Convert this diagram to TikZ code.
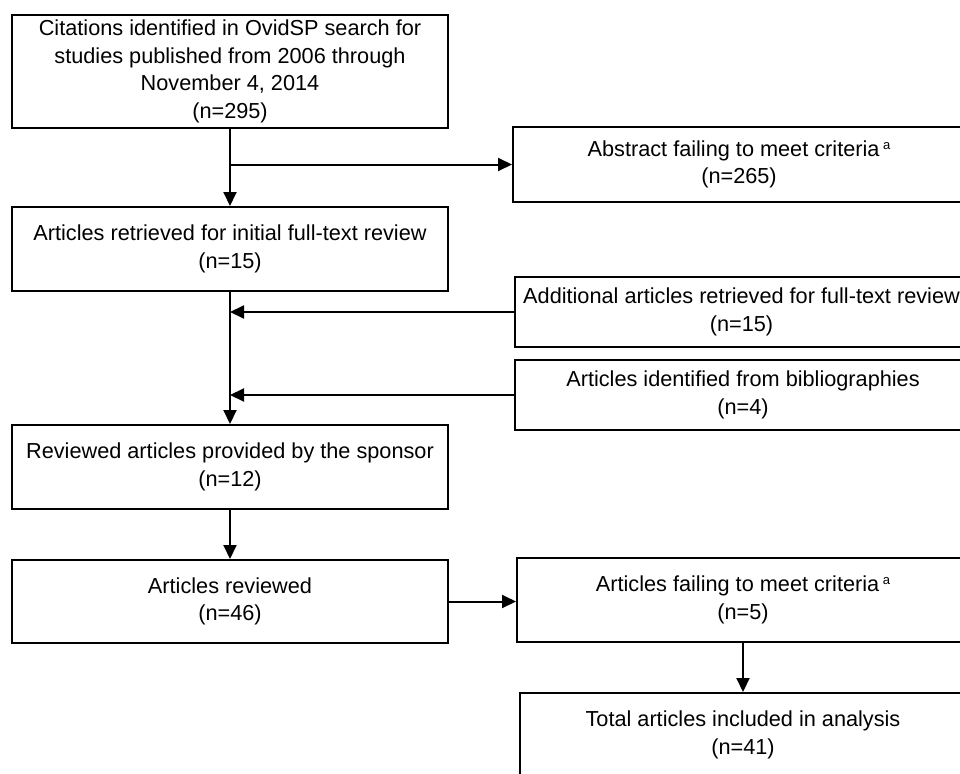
\documentclass[tikz,border=0pt]{standalone}
\usepackage{fontspec}
\setmainfont{Liberation Sans}
\usetikzlibrary{arrows.meta}

\tikzset{
    box/.style={draw, line width=2pt, inner sep=0pt, align=center,
        font=\fontsize{21.7}{27.5}\selectfont},
    leftbox/.style={box, minimum width=436, minimum height=84},
    arr/.style={line width=2pt, -{Triangle[length=14pt, width=13pt]}},
}
\newcommand{\supa}{\,\raisebox{7pt}{\fontsize{13}{13}\selectfont a}}

\begin{document}
\begin{tikzpicture}[x=1pt, y=-1pt]
    \useasboundingbox (0,0) rectangle (960,773);
    \clip (0,0) rectangle (960,773);

    % main column
    \node[leftbox, minimum height=113] (cit) at (230, 71.5)
        {Citations identified in OvidSP search for\\studies published from 2006 through\\November 4, 2014\\(n=295)};
    \node[leftbox] (art) at (230, 249) {Articles retrieved for initial full-text review\\(n=15)};
    \node[leftbox] (spo) at (230, 467) {Reviewed articles provided by the sponsor\\(n=12)};
    \node[leftbox, minimum height=83] (rev) at (230, 601.5) {Articles reviewed\\(n=46)};

    % side boxes
    \node[box, minimum width=452, minimum height=75] (abs) at (739, 164.5) {Abstract failing to meet criteria\supa\\(n=265)};
    \node[box, minimum width=453, minimum height=70] (add) at (741.5, 312) {Additional articles retrieved for full-text review\\(n=15)};
    \node[box, minimum width=456, minimum height=70] (bib) at (743, 395) {Articles identified from bibliographies\\(n=4)};
    \node[box, minimum width=452, minimum height=84] (fail) at (743, 600) {Articles failing to meet criteria\supa\\(n=5)};
    \node[box, minimum width=446, minimum height=84] (tot) at (743, 735) {Total articles included in analysis\\(n=41)};

    \draw[arr] (cit) -- (art);
    \draw[arr] (cit.south |- abs.west) -- (abs.west);
    \draw[arr] (art) -- (spo);
    \foreach \n in {add, bib}{ \draw[arr] (\n.west) -- (\n.west -| art.south); }
    \draw[arr] (spo) -- (rev);
    \draw[arr] (rev.east) -- (rev.east -| fail.west);
    \draw[arr] (fail) -- (tot);
\end{tikzpicture}
\end{document}
